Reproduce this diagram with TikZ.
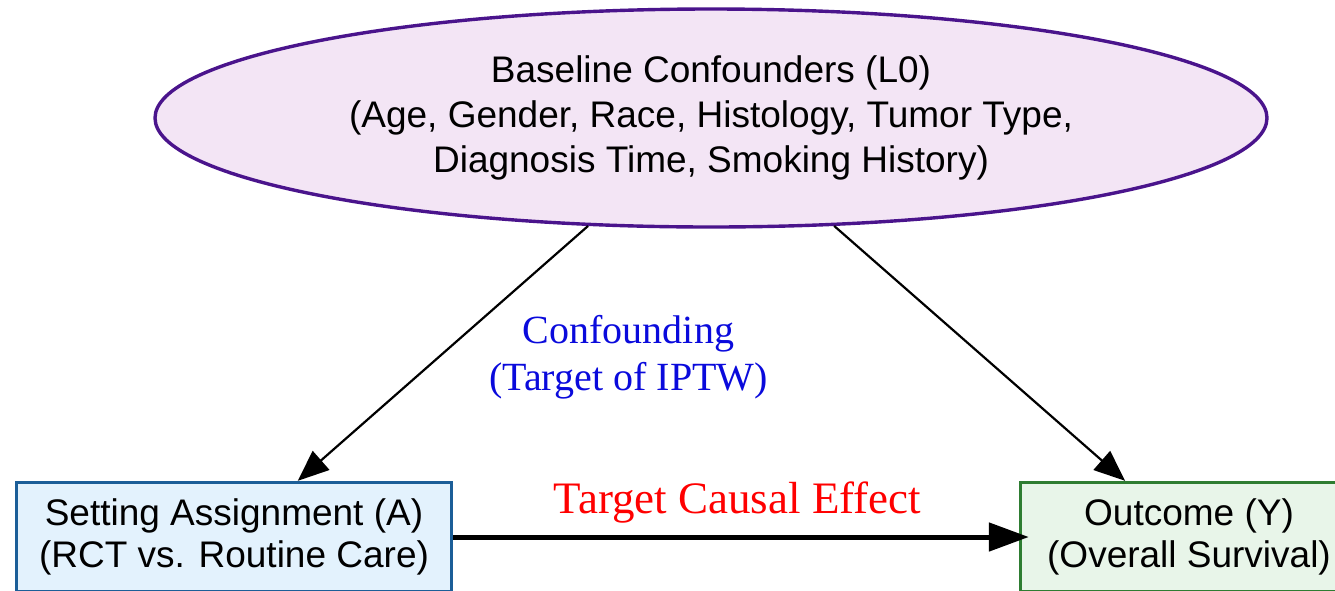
\documentclass[tikz,border=0pt]{standalone}
\usepackage{fontspec}
\setmainfont{Liberation Serif}
\setsansfont{Liberation Sans}
\usetikzlibrary{shapes.geometric,arrows.meta}

\definecolor{lzdraw}{HTML}{4A148C}
\definecolor{lzfill}{HTML}{F3E5F5}
\definecolor{adraw}{HTML}{1B5E98}
\definecolor{afill}{HTML}{E3F2FD}
\definecolor{ydraw}{HTML}{2E7D32}
\definecolor{yfill}{HTML}{E8F5E9}
\definecolor{labblue}{HTML}{0A0ADC}

\tikzset{
  x=1pt, y=-1pt,
  varbox/.style={rectangle, line width=3.4pt, inner sep=0pt, align=center,
    font=\sffamily\fontsize{37}{42}\selectfont},
  confounder/.style={ellipse, line width=3.4pt, draw=lzdraw, fill=lzfill,
    inner sep=0pt, minimum width=1112pt, minimum height=218pt, align=center,
    font=\sffamily\fontsize{37}{45}\selectfont},
  biasarrow/.style={line width=2.2pt, -{Triangle[length=31pt,width=25pt]}},
  effectarrow/.style={line width=5pt, -{Triangle[length=40pt,width=28pt]}},
  note/.style={inner sep=0pt, align=center},
}

\begin{document}
\begin{tikzpicture}
  \useasboundingbox (0,0) rectangle (1335,590);
  \clip (0,0) rectangle (1335,590);

  % baseline confounders
  \node[confounder] (L0) at (711,118)
    {Baseline Confounders (L0)\\(Age, Gender, Race, Histology, Tumor Type,\\Diagnosis Time, Smoking History)};

  % treatment and outcome
  \node[varbox, draw=adraw, fill=afill, minimum width=435pt, minimum height=109pt]
    (A) at (234,537) {Setting Assignment (A)\\(RCT vs. Routine Care)};
  \node[varbox, draw=ydraw, fill=yfill, minimum width=337pt, minimum height=109pt]
    (Y) at (1189,537) {Outcome (Y)\\(Overall Survival)};

  % edges
  \draw[biasarrow] (L0) -- (A);
  \draw[biasarrow] (L0) -- (Y);
  \draw[effectarrow, shorten >=-10pt] (A) -- (Y);

  % labels
  \node[note, text=labblue, font=\rmfamily\fontsize{40}{47}\selectfont]
    (conf) at (628.5,357) {Confounding\\(Target of IPTW)};
  \node[note, text=red, font=\rmfamily\fontsize{45}{50}\selectfont, anchor=base]
    (eff) at (737.5,513) {Target Causal Effect};
\end{tikzpicture}
\end{document}
